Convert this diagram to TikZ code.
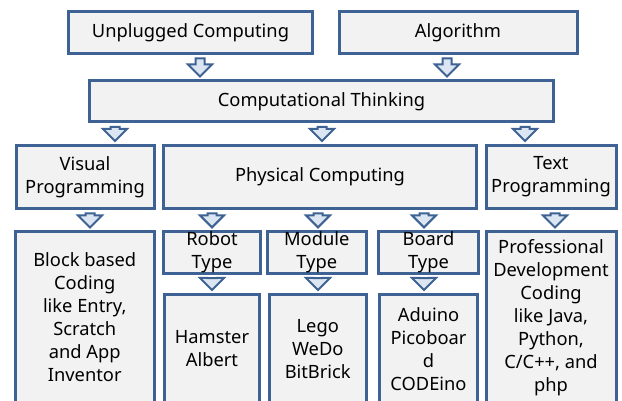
\documentclass[tikz,border=0pt]{standalone}
\usepackage{fontspec}
\setmainfont{Noto Sans}
\usetikzlibrary{calc}
\definecolor{bord}{HTML}{3D6293}
\definecolor{boxfill}{HTML}{F2F2F2}
\definecolor{arrfill}{HTML}{DCE6F2}
\tikzset{
  box/.style={draw=bord, fill=boxfill, line width=3pt, align=center, inner sep=0pt,
    font=\fontsize{18.3}{23}\selectfont, text=black},
  arr/.style={draw=bord, fill=arrfill, line width=2pt, line join=miter},
}
\newcommand\flowarrow[3]{%
  \path (#3,0 |- #1.south) coordinate (fa-t) (#3,0 |- #2.north) coordinate (fa-b);
  \draw[arr] ($(fa-t)+(-4.5,3.5)$) -- ($(fa-t)+(4.5,3.5)$) -- ($(fa-b)+(4.5,-15)$) --
    ($(fa-b)+(12,-15)$) -- ($(fa-b)+(0,-3)$) -- ($(fa-b)+(-12,-15)$) --
    ($(fa-b)+(-4.5,-15)$) -- cycle;}
\begin{document}
\begin{tikzpicture}[x=1pt,y=-1pt]
\useasboundingbox (0,0) rectangle (622,401);
\clip (0,0) rectangle (622,401);
\fill[white] (0,0) rectangle (622,401);
% row 1
\node[box, minimum width=244, minimum height=42] (unp) at (190.5,32.5) {Unplugged Computing};
\node[box, minimum width=238, minimum height=42] (alg) at (458,32.5) {Algorithm};
% row 2
\node[box, minimum width=464, minimum height=41] (ct) at (321.5,101.5) {Computational Thinking};
% row 3
\node[box, minimum width=138, minimum height=63] (vis) at (85,177) {Visual\\Programming};
\node[box, minimum width=313, minimum height=63] (phy) at (320,177) {Physical Computing};
\node[box, minimum width=130, minimum height=63] (txt) at (551,177) {Text\\Programming};
% row 4
\node[box, minimum width=138.5, minimum height=171] (blk) at (84.75,317.5) {Block based\\Coding\\like Entry,\\Scratch\\and App\\Inventor};
\node[box, minimum width=97, minimum height=41] (rob) at (212,252.5) {Robot\\Type};
\node[box, minimum width=98.5, minimum height=41] (mod) at (316.75,252.5) {Module\\Type};
\node[box, minimum width=100, minimum height=41] (brd) at (428.5,252.5) {Board\\Type};
\node[box, minimum width=130, minimum height=171] (pro) at (551,317.5) {Professional\\Development\\Coding\\like Java,\\Python,\\C/C++, and\\php};
% row 5
\node[box, minimum width=95, minimum height=108.5] (ham) at (212,348.75) {Hamster\\Albert};
\node[box, minimum width=96.5, minimum height=108.5] (lego) at (317.75,348.75) {Lego\\WeDo\\BitBrick};
\node[box, minimum width=98, minimum height=108.5] (adu) at (428.5,348.75) {Aduino\\Picoboar\\d\\CODEino};
% arrows
\flowarrow{unp}{ct}{200}
\flowarrow{alg}{ct}{447}
\flowarrow{ct}{vis}{115}
\flowarrow{ct}{phy}{322}
\flowarrow{ct}{txt}{525}
\flowarrow{vis}{blk}{90}
\flowarrow{phy}{rob}{212}
\flowarrow{phy}{mod}{318}
\flowarrow{phy}{brd}{424}
\flowarrow{txt}{pro}{555}
\flowarrow{rob}{ham}{212}
\flowarrow{mod}{lego}{318}
\flowarrow{brd}{adu}{424}
\end{tikzpicture}
\end{document}
